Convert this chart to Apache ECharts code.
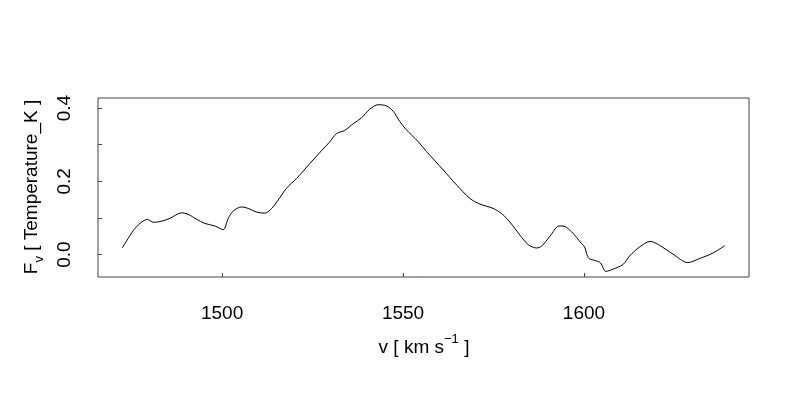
<!DOCTYPE html>
<html>
<head>
<meta charset="utf-8">
<script src="https://cdn.jsdelivr.net/npm/echarts@6/dist/echarts.min.js"></script>
<style>html,body{margin:0;padding:0;background:#fff}#c{width:800px;height:400px}</style>
</head>
<body>
<div id="c"></div>
<script>
var velocity = [1472.4,1475.5,1477.3,1479.3,1481.0,1483.3,1485.6,1488.8,1490.6,1493.0,1495.2,1498.0,1500.3,1501.7,1503.1,1505.4,1507.2,1509.5,1511.8,1513.7,1515.5,1517.8,1520.6,1524.3,1527.6,1529.5,1531.6,1533.9,1536.2,1538.5,1540.8,1543.1,1545.4,1547.3,1549.1,1550.9,1554.2,1556.5,1561.1,1564.8,1568.5,1571.2,1574.9,1577.2,1579.5,1582.3,1584.6,1586.9,1588.3,1590.6,1593.1,1594.2,1596.6,1599.3,1600.2,1600.7,1601.4,1603.0,1604.6,1606.0,1608.0,1610.8,1612.6,1615.4,1618.3,1620.9,1624.6,1628.7,1631.9,1635.6,1638.9];
var flux = [0.018,0.066,0.085,0.096,0.088,0.091,0.099,0.114,0.110,0.096,0.085,0.078,0.068,0.099,0.119,0.130,0.126,0.116,0.113,0.126,0.149,0.181,0.208,0.249,0.285,0.305,0.330,0.339,0.357,0.373,0.397,0.409,0.406,0.391,0.363,0.341,0.308,0.281,0.231,0.190,0.153,0.138,0.126,0.112,0.089,0.053,0.027,0.018,0.023,0.050,0.078,0.078,0.062,0.030,0.021,0.003,-0.011,-0.016,-0.023,-0.046,-0.040,-0.027,-0.004,0.021,0.036,0.025,0.001,-0.022,-0.011,0.004,0.024];
var xTicks = [1500, 1550, 1600];
var yTicks = [0.0, 0.1, 0.2, 0.3, 0.4];
var yLabels = [0.0, 0.2, 0.4];

var chart = echarts.init(document.getElementById('c'), null, {renderer: 'canvas'});
var data = velocity.map(function (v, i) { return [v, flux[i]]; });
var FONT = 'Liberation Sans';
chart.setOption({
  animation: false,
  grid: {left: 98, right: 51, top: 98, bottom: 123, show: true, borderColor: '#444', borderWidth: 1, backgroundColor: 'transparent'},
  xAxis: {
    type: 'value', min: 1465.7, max: 1645.6,
    axisLine: {show: false, onZero: false},
    splitLine: {show: false},
    axisTick: {show: true, inside: true, length: 4, lineStyle: {color: '#444'}, customValues: xTicks},
    axisLabel: {show: true, margin: 27, color: '#000', fontFamily: FONT, fontSize: 19, customValues: xTicks,
      formatter: function (v) { return String(v); }}
  },
  yAxis: {
    type: 'value', min: -0.0613, max: 0.4274,
    axisLine: {show: false, onZero: false},
    splitLine: {show: false},
    axisTick: {show: true, inside: true, length: 4, lineStyle: {color: '#444'}, customValues: yTicks},
    axisLabel: {show: true, rotate: 90, margin: 24, color: '#000', fontFamily: FONT, fontSize: 19, customValues: yLabels,
      formatter: function (v) { return v.toFixed(1); }}
  },
  graphic: [
    {type: 'text', x: 424, y: 345, style: {
      text: '{n|v [ km s}{s|−1}{n| ]}', align: 'center', verticalAlign: 'middle',
      rich: {n: {fontFamily: FONT, fontSize: 19, fill: '#000', lineHeight: 24, verticalAlign: 'bottom'},
             s: {fontFamily: FONT, fontSize: 13, fill: '#000', lineHeight: 24, verticalAlign: 'top'}}
    }},
    {type: 'text', x: 34, y: 187, rotation: Math.PI / 2, style: {
      text: '{n|F}{s|v}{n| [ Temperature_K ]}', align: 'center', verticalAlign: 'middle',
      rich: {n: {fontFamily: FONT, fontSize: 19, fill: '#000', lineHeight: 24, verticalAlign: 'top'},
             s: {fontFamily: FONT, fontSize: 13, fill: '#000', lineHeight: 24, verticalAlign: 'bottom'}}
    }}
  ],
  series: [{
    type: 'line', data: data, showSymbol: false, smooth: 0.3,
    lineStyle: {color: '#000', width: 1}
  }]
});
</script>
</body>
</html>
